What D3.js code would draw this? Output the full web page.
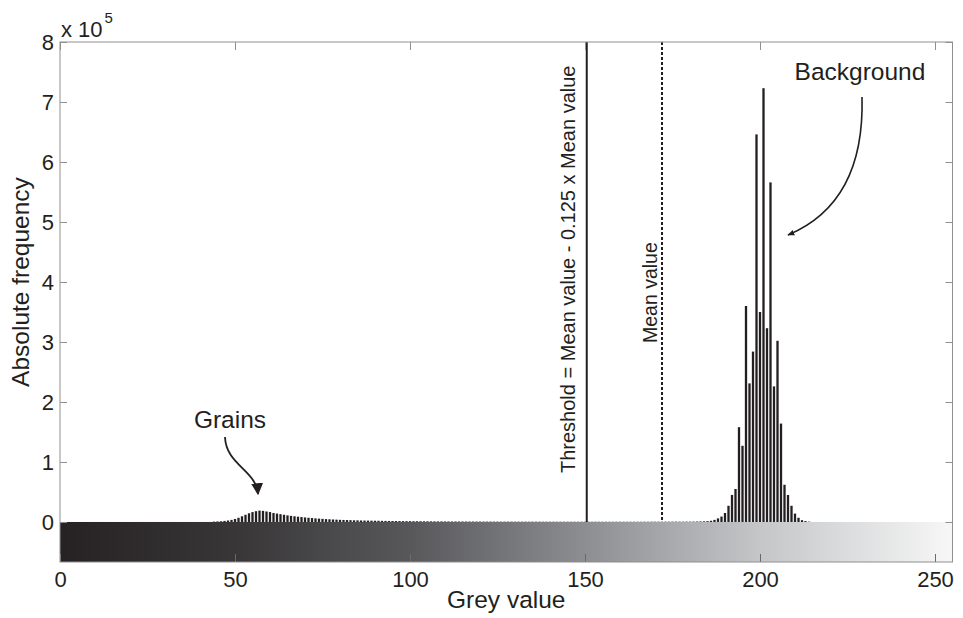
<!DOCTYPE html>
<html>
<head>
<meta charset="utf-8">
<script src="https://cdn.jsdelivr.net/npm/d3@7"></script>
<style>
  html, body { margin: 0; padding: 0; background: #ffffff; }
  svg { display: block; font-family: "Liberation Sans", Arial, Helvetica, sans-serif; }
</style>
</head>
<body>
<svg id="chart" width="963" height="618"></svg>
<script>
// Histogram of grey values: first bin and counts per grey level
const firstGreyLevel = 44;
const frequencies = [
  600, 900, 1200, 1800, 2500, 3500,                                   // 44-49
  5000, 7000, 9500, 12000, 14500, 16500, 18000, 19000, 18500, 17500,  // 50-59
  16500, 15000, 14000, 13000, 12000, 11000, 10200, 9500, 8800, 8200,  // 60-69
  7600, 7000, 6500, 6000, 5600, 5200, 4800, 4500, 4200, 3900,         // 70-79
  3600, 3400, 3200, 3000, 2800, 2700, 2500, 2400, 2300, 2200,         // 80-89
  2100, 2000, 1900, 1800, 1700, 1650, 1600, 1500, 1450, 1400,         // 90-99
  1350, 1300, 1250, 1200, 1150, 1100, 1050, 1000, 980, 950,          // 100-109
  920, 900, 870, 850, 820, 800, 780, 760, 740, 720,                   // 110-119
  700, 680, 660, 640, 620, 600, 590, 580, 570, 560,                   // 120-129
  550, 540, 530, 520, 510, 500, 500, 490, 480, 480,                   // 130-139
  470, 470, 460, 460, 450, 450, 450, 440, 440, 440,                   // 140-149
  430, 430, 430, 420, 420, 420, 420, 410, 410, 410,                   // 150-159
  410, 410, 410, 420, 420, 430, 440, 450, 460, 480,                   // 160-169
  500, 510, 520, 530, 540, 550, 560, 570, 580, 590,                   // 170-179
  600, 700, 800, 950, 1100, 1400, 2000, 3500, 6000, 9000,             // 180-189
  15000, 27000, 45000, 55000, 158000, 127000, 360000, 231000, 284000, 646000, // 190-199
  350000, 723000, 323000, 566000, 226000, 302000, 164000, 62000, 45000, 27000, // 200-209
  14000, 7000, 3000, 1500, 600                                        // 210-214
];
const greyLevels = frequencies.map((_, i) => firstGreyLevel + i);

// Reference lines
const meanValue = 172;
const thresholdValue = meanValue - 0.125 * meanValue;

// Axis ticks
const xTicks = [0, 50, 100, 150, 200, 250];
const yTicks = [0, 100000, 200000, 300000, 400000, 500000, 600000, 700000, 800000];

// Grey-level colour bar stops (grey value, printed colour)
const barStops = [
  [0, "#262223"], [50, "#383637"], [100, "#58585b"],
  [150, "#8d8e91"], [200, "#c4c6c8"], [255, "#f7f7f7"]
];

const ink = "#231f20";
const frame = "#8f8f8f";

const svg = d3.select("#chart");
const plotLeft = 60, plotRight = 952.5, plotTop = 42, plotBottom = 562;

const x = d3.scaleLinear().domain([0, 255]).range([plotLeft, plotRight]);
const yMin = -66700;
const y = d3.scaleLinear().domain([yMin, 800000]).range([plotBottom, plotTop]);

// Colour bar under the zero line
const defs = svg.append("defs");
const grad = defs.append("linearGradient")
  .attr("id", "greyBar").attr("x1", "0%").attr("x2", "100%").attr("y1", "0%").attr("y2", "0%");
grad.selectAll("stop").data(barStops).join("stop")
  .attr("offset", d => (d[0] / 255 * 100) + "%")
  .attr("stop-color", d => d[1]);

svg.append("rect")
  .attr("x", x(0)).attr("y", y(0))
  .attr("width", x(255) - x(0)).attr("height", y(yMin) - y(0))
  .attr("fill", "url(#greyBar)");

// Histogram bars
const barW = 2.3;
svg.append("g").selectAll("rect")
  .data(greyLevels.map((g, i) => ({ g, n: frequencies[i] })))
  .join("rect")
  .attr("x", d => x(d.g) - barW / 2)
  .attr("width", barW)
  .attr("y", d => y(d.n))
  .attr("height", d => y(0) - y(d.n))
  .attr("fill", ink);

// Threshold (solid) and mean (dashed) lines
svg.append("line")
  .attr("x1", x(thresholdValue)).attr("x2", x(thresholdValue))
  .attr("y1", y(800000)).attr("y2", y(0))
  .attr("stroke", ink).attr("stroke-width", 2);
svg.append("line")
  .attr("x1", x(meanValue)).attr("x2", x(meanValue))
  .attr("y1", y(800000)).attr("y2", y(0))
  .attr("stroke", ink).attr("stroke-width", 2)
  .attr("stroke-dasharray", "3,2");

// Axes with inward ticks on all four sides
const fmtY = d => d3.format("d")(d / 100000);
const yAxisL = svg.append("g").attr("transform", `translate(${plotLeft},0)`)
  .call(d3.axisLeft(y).tickValues(yTicks).tickSize(-7).tickPadding(6).tickFormat(fmtY));
const yAxisR = svg.append("g").attr("transform", `translate(${plotRight},0)`)
  .call(d3.axisRight(y).tickValues(yTicks).tickSize(-7).tickFormat(""));
const xAxisB = svg.append("g").attr("transform", `translate(0,${plotBottom})`)
  .call(d3.axisBottom(x).tickValues(xTicks).tickSize(-8).tickPadding(9));
const xAxisT = svg.append("g").attr("transform", `translate(0,${plotTop})`)
  .call(d3.axisTop(x).tickValues(xTicks).tickSize(-8).tickFormat(""));

[yAxisL, yAxisR, xAxisB, xAxisT].forEach(a => {
  a.select(".domain").remove();
  a.selectAll(".tick line").attr("stroke", frame);
  a.selectAll("text").attr("fill", ink).style("font-size", "22px")
    .style("font-family", "'Liberation Sans', Arial, sans-serif");
});
xAxisB.selectAll(".tick line").attr("stroke", "#6a6a6a");

// Plot frame
svg.append("rect")
  .attr("x", plotLeft).attr("y", plotTop)
  .attr("width", plotRight - plotLeft).attr("height", plotBottom - plotTop)
  .attr("fill", "none").attr("stroke", frame).attr("stroke-width", 1);

// Exponent label
const expo = svg.append("text").attr("x", 61).attr("y", 37)
  .attr("fill", ink).style("font-size", "22px");
expo.append("tspan").text("x 10");
expo.append("tspan").attr("dx", 2).attr("dy", -14).style("font-size", "15px").text("5");

// Axis titles
svg.append("text")
  .attr("transform", "translate(29,282) rotate(-90)")
  .attr("text-anchor", "middle").attr("fill", ink).style("font-size", "24.5px")
  .text("Absolute frequency");
svg.append("text")
  .attr("x", (plotLeft + plotRight) / 2).attr("y", 608)
  .attr("text-anchor", "middle").attr("fill", ink).style("font-size", "24.5px")
  .text("Grey value");

// Line labels
svg.append("text")
  .attr("transform", `translate(${x(thresholdValue) - 12},473) rotate(-90)`)
  .attr("fill", ink).style("font-size", "20px")
  .text("Threshold = Mean value - 0.125 x Mean value");
svg.append("text")
  .attr("transform", `translate(${x(meanValue) - 5},343) rotate(-90)`)
  .attr("fill", ink).style("font-size", "19.5px")
  .text("Mean value");

// Peak annotations with curved arrows
defs.append("marker").attr("id", "headSmall")
  .attr("viewBox", "0 0 10 10").attr("refX", 9).attr("refY", 5)
  .attr("markerWidth", 7).attr("markerHeight", 7).attr("markerUnits", "userSpaceOnUse")
  .attr("orient", "auto")
  .append("path").attr("d", "M0,1 L10,5 L0,9 Z").attr("fill", ink);
defs.append("marker").attr("id", "headLarge")
  .attr("viewBox", "0 0 10 10").attr("refX", 9).attr("refY", 5)
  .attr("markerWidth", 12).attr("markerHeight", 12).attr("markerUnits", "userSpaceOnUse")
  .attr("orient", "auto")
  .append("path").attr("d", "M0,0 L10,5 L0,10 Z").attr("fill", ink);

svg.append("text").attr("x", 860).attr("y", 80)
  .attr("text-anchor", "middle").attr("fill", ink).style("font-size", "24.5px")
  .text("Background");
svg.append("path")
  .attr("d", "M862,97 C864,170 838,214 788,235")
  .attr("fill", "none").attr("stroke", ink).attr("stroke-width", 1.6)
  .attr("marker-end", "url(#headSmall)");

svg.append("text").attr("x", 230).attr("y", 428)
  .attr("text-anchor", "middle").attr("fill", ink).style("font-size", "24.5px")
  .text("Grains");
svg.append("path")
  .attr("d", "M225,437 C226,465 256,470 258,494")
  .attr("fill", "none").attr("stroke", ink).attr("stroke-width", 1.8)
  .attr("marker-end", "url(#headLarge)");
</script>
</body>
</html>
